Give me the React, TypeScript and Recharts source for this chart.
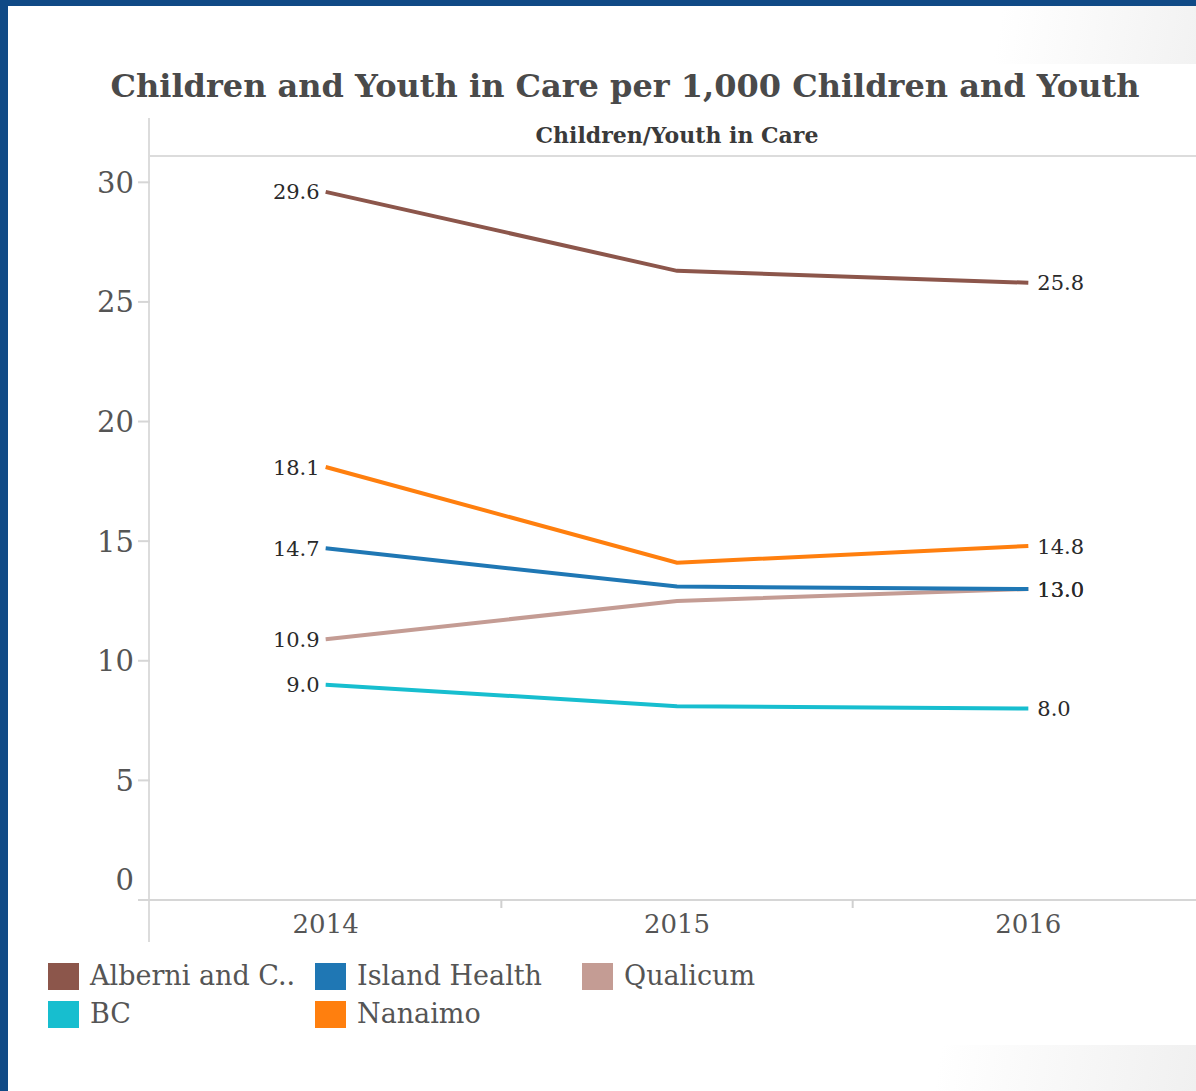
import React from "react";
import { LineChart, Line, XAxis, YAxis, LabelList } from "recharts";

const years = [2014, 2015, 2016];
const alberni = [29.6, 26.3, 25.8];
const islandHealth = [14.7, 13.1, 13.0];
const qualicum = [10.9, 12.5, 13.0];
const bc = [9.0, 8.1, 8.0];
const nanaimo = [18.1, 14.1, 14.8];

const yTicks = [0, 5, 10, 15, 20, 25, 30];
const xTicks = [2014, 2014.5, 2015, 2015.5, 2016];

// draw order: Qualicum under Island Health like the original
const SERIES = [
  { key: "alberni", name: "Alberni and C..", color: "#8c564b", values: alberni },
  { key: "bc", name: "BC", color: "#17becf", values: bc },
  { key: "qualicum", name: "Qualicum", color: "#c49c94", values: qualicum },
  { key: "islandHealth", name: "Island Health", color: "#1f77b4", values: islandHealth },
  { key: "nanaimo", name: "Nanaimo", color: "#ff7f0e", values: nanaimo },
];

// legend goes column-major: 2 rows
const LEGEND_ORDER = ["alberni", "bc", "islandHealth", "nanaimo", "qualicum"];

const data = years.map((year, i) => {
  const row: Record<string, number> = { year };
  SERIES.forEach((s) => (row[s.key] = s.values[i]));
  return row;
});

const FONT = "'DejaVu Serif', 'Liberation Serif', serif";

const YTick = ({ x, y, payload }: any) => (
  <text
    x={x}
    y={payload.value === 0 ? y - 20 : y}
    dy="0.36em"
    textAnchor="end"
    fontFamily={FONT}
    fontSize={29}
    fill="#555"
  >
    {payload.value}
  </text>
);

const XTick = ({ x, y, payload }: any) => {
  if (!Number.isInteger(payload.value)) {
    return <line x1={x} x2={x} y1={y - 6} y2={y + 2} stroke="#d0d0d0" strokeWidth={2} />;
  }
  return (
    <text x={x} y={y + 27} textAnchor="middle" fontFamily={FONT} fontSize={26} fill="#555">
      {payload.value}
    </text>
  );
};

const EndLabel = (props: any) => {
  const { x, y, value, index } = props;
  if (index === 1) return null;
  const left = index === 0;
  return (
    <text
      x={left ? x - 6 : x + 9}
      y={y}
      dy="0.36em"
      textAnchor={left ? "end" : "start"}
      fontFamily={FONT}
      fontSize={21}
      fill="#2a2a2a"
    >
      {Number(value).toFixed(1)}
    </text>
  );
};

export default function App() {
  return (
    <div
      style={{
        position: "absolute",
        left: 0,
        top: 0,
        width: 1196,
        height: 1091,
        overflow: "hidden",
        background: "#fff",
        fontFamily: FONT,
      }}
    >
      {/* slide decorations */}
      <div style={{ position: "absolute", right: 0, top: 0, width: 260, height: 64, background: "linear-gradient(100deg, #fff 25%, #f2f2f2 100%)" }} />
      <div style={{ position: "absolute", right: 0, bottom: 0, width: 320, height: 46, background: "linear-gradient(100deg, #fff 20%, #f0f0f0 100%)" }} />
      <div style={{ position: "absolute", left: 0, top: 0, width: 1196, height: 6, background: "#104a86" }} />
      <div style={{ position: "absolute", left: 0, top: 0, width: 8, height: 1091, background: "#104a86" }} />

      <div
        style={{
          position: "absolute",
          left: 0,
          width: 1250,
          top: 67,
          textAlign: "center",
          fontSize: 32,
          fontWeight: "bold",
          color: "#4a4a4a",
          whiteSpace: "nowrap",
        }}
      >
        Children and Youth in Care per 1,000 Children and Youth
      </div>
      <div
        style={{
          position: "absolute",
          left: 150,
          width: 1054,
          top: 122,
          textAlign: "center",
          fontSize: 22,
          fontWeight: "bold",
          color: "#3a3a3a",
        }}
      >
        Children/Youth in Care
      </div>

      {/* frame rules */}
      <div style={{ position: "absolute", left: 148, top: 118, width: 2, height: 824, background: "#dcdcdc" }} />
      <div style={{ position: "absolute", left: 150, top: 155, width: 1046, height: 2, background: "#dcdcdc" }} />

      <div style={{ position: "absolute", left: 0, top: 0 }}>
        <LineChart
          width={1204}
          height={1091}
          data={data}
          margin={{ top: 156, right: 0, bottom: 151, left: 0 }}
        >
          <XAxis
            dataKey="year"
            type="number"
            domain={[2013.5, 2016.5]}
            ticks={xTicks}
            tickLine={false}
            tickSize={6}
            tickMargin={0}
            height={40}
            axisLine={{ stroke: "#d6d6d6", strokeWidth: 2 }}
            tick={<XTick />}
            interval={0}
          />
          <YAxis
            type="number"
            domain={[0, 31.1]}
            ticks={yTicks}
            width={150}
            tickSize={12}
            tickMargin={4}
            axisLine={false}
            tickLine={{ stroke: "#d6d6d6", strokeWidth: 2 }}
            tick={<YTick />}
            interval={0}
          />
          {SERIES.map((s) => (
            <Line
              key={s.key}
              dataKey={s.key}
              stroke={s.color}
              strokeWidth={4}
              dot={false}
              activeDot={false}
              isAnimationActive={false}
            >
              <LabelList dataKey={s.key} content={<EndLabel />} />
            </Line>
          ))}
        </LineChart>
      </div>

      {/* legend */}
      {LEGEND_ORDER.map((k, i) => {
        const s = SERIES.find((x) => x.key === k)!;
        const col = Math.floor(i / 2);
        const row = i % 2;
        const colX = [48, 315, 582][col];
        return (
          <div
            key={k}
            style={{
              position: "absolute",
              left: colX,
              top: 962 + row * 38,
              display: "flex",
              alignItems: "center",
              whiteSpace: "nowrap",
            }}
          >
            <div style={{ width: 31, height: 27, background: s.color, marginRight: 11 }} />
            <span style={{ fontSize: 27, color: "#555", lineHeight: "28px" }}>{s.name}</span>
          </div>
        );
      })}
    </div>
  );
}
